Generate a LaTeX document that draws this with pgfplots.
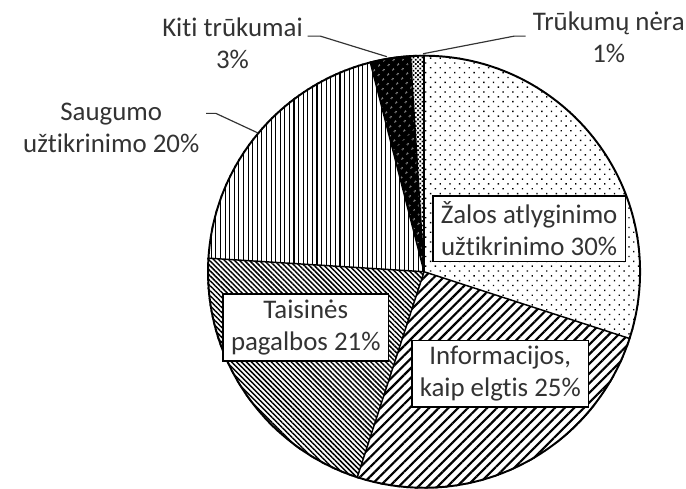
\documentclass[border=0pt]{standalone}
\usepackage{pgfplots}
\pgfplotsset{compat=1.18}
\usepackage{pgfplotstable}
\usepackage{fontspec}
\setmainfont{Carlito}[Ligatures=NoCommon]
\usetikzlibrary{patterns.meta}
\definecolor{txt}{HTML}{333333}

\pgfplotstableread{
label value
Nera 1
Kiti 3
Saugumo 20
Taisines 21
Informacijos 25
Zalos 30
}\piedata

\begin{document}
\pgfplotstablegetelem{0}{value}\of\piedata\let\vA\pgfplotsretval
\pgfplotstablegetelem{1}{value}\of\piedata\let\vB\pgfplotsretval
\pgfplotstablegetelem{2}{value}\of\piedata\let\vC\pgfplotsretval
\pgfplotstablegetelem{3}{value}\of\piedata\let\vD\pgfplotsretval
\pgfplotstablegetelem{4}{value}\of\piedata\let\vE\pgfplotsretval
\pgfplotstablegetelem{5}{value}\of\piedata\let\vF\pgfplotsretval
\pgfmathsetmacro\aA{90}
\pgfmathsetmacro\aB{\aA+3.6*\vA}
\pgfmathsetmacro\aC{\aB+3.6*\vB}
\pgfmathsetmacro\aD{\aC+3.6*\vC}
\pgfmathsetmacro\aE{\aD+3.6*\vD}
\pgfmathsetmacro\aF{\aE+3.6*\vE}
\pgfmathsetmacro\aG{\aF+3.6*\vF}
\begin{tikzpicture}
\useasboundingbox (0,0) rectangle (686pt,500pt);
\fill[white] (0,0) rectangle (686pt,500pt);
\begin{axis}[
  at={(0,0)}, anchor=south west,
  x=1pt, y=1pt, xmin=0, xmax=686, ymin=0, ymax=500,
  hide axis, clip=false,
]
% slices
\fill[white] (axis cs:418,222) -- ++(\aA:222pt) arc[start angle=\aA, end angle=\aB, radius=222pt] -- cycle;
\fill[pattern={Dots[distance=3.2pt, radius=1.3pt, angle=45]}] (axis cs:418,222) -- ++(\aA:222pt) arc[start angle=\aA, end angle=\aB, radius=222pt] -- cycle;
\fill[black] (axis cs:418,222) -- ++(\aB:222pt) arc[start angle=\aB, end angle=\aC, radius=222pt] -- cycle;
\fill[pattern={Dots[distance=6.5pt, radius=1pt, angle=45]}, pattern color=white] (axis cs:418,222) -- ++(\aB:222pt) arc[start angle=\aB, end angle=\aC, radius=222pt] -- cycle;
\fill[pattern={Lines[angle=90, distance=4.7pt, line width=1.1pt]}] (axis cs:418,222) -- ++(\aC:222pt) arc[start angle=\aC, end angle=\aD, radius=222pt] -- cycle;
\fill[pattern={Lines[angle=-45, distance=3.6pt, line width=1.5pt]}] (axis cs:418,222) -- ++(\aD:222pt) arc[start angle=\aD, end angle=\aE, radius=222pt] -- cycle;
\fill[pattern={Lines[angle=45, distance=7pt, line width=2.2pt]}] (axis cs:418,222) -- ++(\aE:222pt) arc[start angle=\aE, end angle=\aF, radius=222pt] -- cycle;
\fill[pattern={Dots[distance=7pt, radius=1pt, angle=45]}] (axis cs:418,222) -- ++(\aF:222pt) arc[start angle=\aF, end angle=\aG, radius=222pt] -- cycle;
% radial lines
\draw[line width=1.5pt] (axis cs:418,222) -- ++(\aA:222pt);
\draw[line width=1.5pt] (axis cs:418,222) -- ++(\aB:222pt);
\draw[line width=1.5pt] (axis cs:418,222) -- ++(\aC:222pt);
\draw[line width=1.5pt] (axis cs:418,222) -- ++(\aD:222pt);
\draw[line width=1.5pt] (axis cs:418,222) -- ++(\aE:222pt);
\draw[line width=1.5pt] (axis cs:418,222) -- ++(\aF:222pt);
\draw[line width=2pt] (axis cs:418,222) circle[radius=221pt];
% leader lines
\draw[txt, line width=1.2pt] (axis cs:195,384) -- (axis cs:205,384) -- (axis cs:248,364);
\draw[txt, line width=1.2pt] (axis cs:299,463) -- (axis cs:312,463) -- (axis cs:380,442);
\draw[txt, line width=1.2pt] (axis cs:522,463) -- (axis cs:510,463) -- (axis cs:417,445);
% labels
\tikzset{lbl/.style={align=center, text=txt, font=\fontsize{27.5}{32.5}\selectfont, inner sep=0pt}}
\tikzset{box/.style={lbl, draw=black, line width=1.5pt, fill=white, inner xsep=8pt, inner ysep=6pt}}
\node[box] at (axis cs:525.5,266) {Žalos atlyginimo\\užtikrinimo 30\%};
\node[box] at (axis cs:496,117.5) {Informacijos,\\kaip elgtis 25\%};
\node[box] at (axis cs:297,165) {Taisinės\\pagalbos 21\%};
\node[lbl] at (axis cs:98,369) {Saugumo\\užtikrinimo 20\%};
\node[lbl] at (axis cs:222,456) {Kiti trūkumai\\3\%};
\node[lbl] at (axis cs:607,461.5) {Trūkumų nėra\\1\%};
\end{axis}
\end{tikzpicture}
\end{document}
